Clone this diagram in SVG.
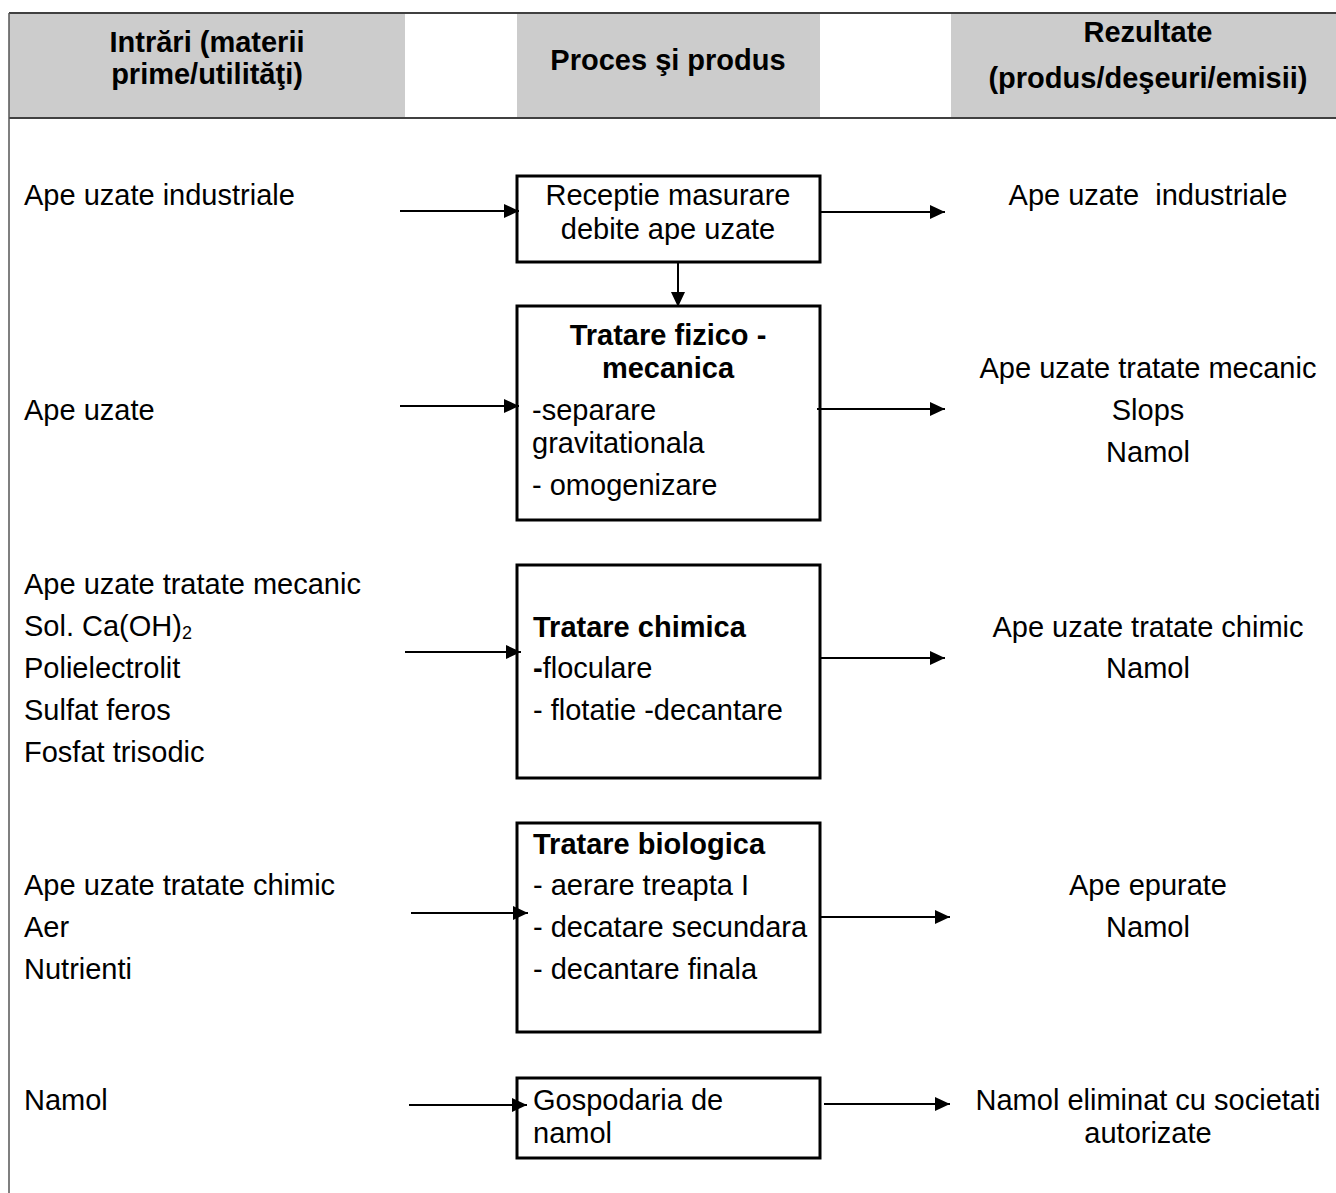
<svg xmlns="http://www.w3.org/2000/svg" width="1336" height="1193" viewBox="0 0 1336 1193">
<style>
text{font-family:"Liberation Sans",Arial,sans-serif;fill:#000}
.h{font-size:29px;font-weight:bold}
.t{font-size:29px}
.b{font-weight:bold}
.c{text-anchor:middle}
.box{fill:#fff;stroke:#000;stroke-width:3}
.band{fill:#cccccc}
.rule{stroke:#404040;stroke-width:2;fill:none}
.con{stroke:#000;stroke-width:2;fill:none;marker-end:url(#ah)}
</style>
<defs>
<marker id="ah" markerUnits="userSpaceOnUse" markerWidth="16" markerHeight="16" refX="15" refY="8" orient="auto">
<path d="M0,1 L15,8 L0,15 Z" fill="#000"/>
</marker>
</defs>
<g id="header">
<rect class="band" x="9" y="13" width="396" height="105"/>
<rect class="band" x="517" y="13" width="303" height="105"/>
<rect class="band" x="951" y="13" width="385" height="105"/>
<line class="rule" x1="9" y1="13" x2="1336" y2="13"/>
<line class="rule" x1="9" y1="118" x2="1336" y2="118"/>
<line x1="9" y1="13" x2="9" y2="1193" stroke="#555" stroke-width="1.5"/>
<text class="h c" x="207" y="52">Intrări (materii</text>
<text class="h c" x="207" y="84">prime/utilităţi)</text>
<text class="h c" x="668" y="70">Proces şi produs</text>
<text class="h c" x="1148" y="42">Rezultate</text>
<text class="h c" x="1148" y="88">(produs/deşeuri/emisii)</text>
</g>
<g id="inputs">
<text class="t" x="24" y="205">Ape uzate industriale</text>
<text class="t" x="24" y="420">Ape uzate</text>
<text class="t" x="24" y="594">Ape uzate tratate mecanic</text>
<text class="t" x="24" y="636">Sol. Ca(OH)<tspan font-size="18" dy="3">2</tspan></text>
<text class="t" x="24" y="678">Polielectrolit</text>
<text class="t" x="24" y="720">Sulfat feros</text>
<text class="t" x="24" y="762">Fosfat trisodic</text>
<text class="t" x="24" y="895">Ape uzate tratate chimic</text>
<text class="t" x="24" y="937">Aer</text>
<text class="t" x="24" y="979">Nutrienti</text>
<text class="t" x="24" y="1110">Namol</text>
</g>
<g id="outputs">
<text class="t c" x="1148" y="205" xml:space="preserve">Ape uzate  industriale</text>
<text class="t c" x="1148" y="378">Ape uzate tratate mecanic</text>
<text class="t c" x="1148" y="420">Slops</text>
<text class="t c" x="1148" y="462">Namol</text>
<text class="t c" x="1148" y="637">Ape uzate tratate chimic</text>
<text class="t c" x="1148" y="678">Namol</text>
<text class="t c" x="1148" y="895">Ape epurate</text>
<text class="t c" x="1148" y="937">Namol</text>
<text class="t c" x="1148" y="1110">Namol eliminat cu societati</text>
<text class="t c" x="1148" y="1143">autorizate</text>
</g>
<g id="node-receptie">
<rect class="box" x="517" y="176" width="303" height="86"/>
<text class="t c" x="668" y="205">Receptie masurare</text>
<text class="t c" x="668" y="239">debite ape uzate</text>
</g>
<g id="node-fizico">
<rect class="box" x="517" y="306" width="303" height="214"/>
<text class="t b c" x="668" y="345">Tratare fizico -</text>
<text class="t b c" x="668" y="378">mecanica</text>
<text class="t" x="532" y="420">-separare</text>
<text class="t" x="532" y="453">gravitationala</text>
<text class="t" x="532" y="495">- omogenizare</text>
</g>
<g id="node-chimica">
<rect class="box" x="517" y="565" width="303" height="213"/>
<text class="t b" x="533" y="637">Tratare chimica</text>
<text class="t" x="533" y="678"><tspan class="b">-</tspan>floculare</text>
<text class="t" x="533" y="720">- flotatie -decantare</text>
</g>
<g id="node-biologica">
<rect class="box" x="517" y="823" width="303" height="209"/>
<text class="t b" x="533" y="854">Tratare biologica</text>
<text class="t" x="533" y="895">- aerare treapta I</text>
<text class="t" x="533" y="937">- decatare secundara</text>
<text class="t" x="533" y="979">- decantare finala</text>
</g>
<g id="node-namol">
<rect class="box" x="517" y="1078" width="303" height="80"/>
<text class="t" x="533" y="1110">Gospodaria de</text>
<text class="t" x="533" y="1143">namol</text>
</g>
<g id="connectors">
<line class="con" x1="400" y1="211" x2="519" y2="211"/>
<line class="con" x1="820" y1="212" x2="945" y2="212"/>
<line class="con" x1="678" y1="262" x2="678" y2="307"/>
<line class="con" x1="400" y1="406" x2="519" y2="406"/>
<line class="con" x1="817" y1="409" x2="945" y2="409"/>
<line class="con" x1="405" y1="652" x2="521" y2="652"/>
<line class="con" x1="820" y1="658" x2="945" y2="658"/>
<line class="con" x1="411" y1="913" x2="528" y2="913"/>
<line class="con" x1="820" y1="917" x2="950" y2="917"/>
<line class="con" x1="409" y1="1105" x2="527" y2="1105"/>
<line class="con" x1="824" y1="1104" x2="950" y2="1104"/>
</g>
</svg>
